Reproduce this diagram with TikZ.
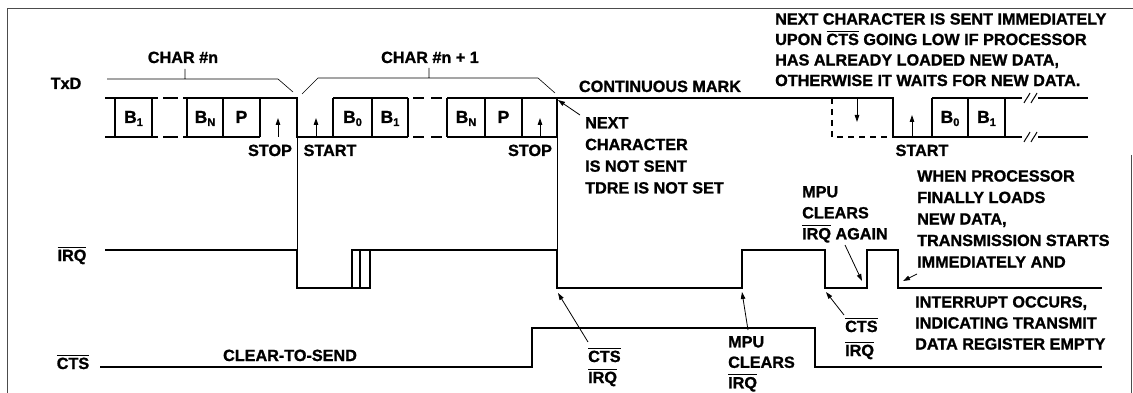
\documentclass[tikz,border=0pt]{standalone}
\usepackage{fontspec}
\setmainfont{Liberation Sans}[BoldFeatures={FakeBold=1.2}]
\usetikzlibrary{arrows.meta}
\newcommand\dgfont[1]{\fontsize{16.2}{#1}\selectfont\bfseries}
\newcommand\ovl[1]{\setbox0\hbox{#1}\rlap{\rule[\dimexpr\ht0+2pt\relax]{\wd0}{1pt}}\box0\relax}
\newcommand\bsub[2]{{\fontsize{17.5}{17.5}\selectfont #1}\raisebox{-3pt}{\fontsize{11}{11}\selectfont #2}}
\begin{document}
\begin{tikzpicture}[x=1pt,y=-1pt,
  sig/.style={line width=1.3pt,line join=miter},
  guide/.style={line width=0.6pt},
  frame/.style={line width=0.7pt,black!70},
  txt/.style={font=\dgfont{21},inner sep=0pt,anchor=base},
  note/.style={font=\dgfont{#1},inner sep=0pt,align=left,anchor=north west},
  ann/.style={-{Triangle[length=7pt,width=4.5pt]},line width=0.8pt}]
  \useasboundingbox (0,0) rectangle (1133,393);
  \draw[frame] (7,393) -- (7,8) -- (1133,8);
  \draw[frame] (1131,155) -- (1131,393);

  % signal names
  \node[txt] (txd) at (66,89) {TxD};
  \node[txt] (irq) at (72,261) {\ovl{IRQ}};
  \node[txt] (cts) at (73,369) {\ovl{CTS}};

  % TxD line
  \draw[sig] (105,98) -- (158,98) (105,137) -- (158,137);
  \draw[sig] (163,98) -- (178,98) (163,137) -- (178,137);
  \draw[sig] (183,98) -- (297,98) -- (297,137) -- (408,137);
  \draw[sig] (183,137) -- (260,137);
  \draw[sig] (333,98) -- (408,98);
  \draw[sig] (413,98) -- (424,98) (431,98) -- (442,98);
  \draw[sig] (413,137) -- (424,137) (431,137) -- (442,137);
  \draw[sig] (447,98) -- (893,98) -- (893,137) -- (1022,137);
  \draw[sig] (447,137) -- (557,137);
  \draw[sig] (932,98) -- (1022,98);
  \draw[sig] (1038,98) -- (1088,98) (1038,137) -- (1088,137);
  \foreach \x in {115,152,187,223,260,333,372,408,447,485,522,557,932,968,1005}
    \draw[sig] (\x,98) -- (\x,137);
  \foreach \y in {98,137} \foreach \x in {1027,1034}
    \draw[line width=1pt] (\x-3,\y+5) .. controls (\x-1,\y+1) and (\x+1,\y-1) .. (\x+3,\y-5);
  \draw[sig,dash pattern=on 6pt off 5pt] (832,98) -- (832,137) -- (893,137);

  % bit names
  \node[txt] (b1a) at (133.5,123) {\bsub{B}{1}};
  \node[txt] (bna) at (205,123) {\bsub{B}{N}};
  \node[txt] (pa)  at (241.5,123) {\bsub{P}{}};
  \node[txt] (b0b) at (352.5,123) {\bsub{B}{0}};
  \node[txt] (b1b) at (390,123) {\bsub{B}{1}};
  \node[txt] (bnb) at (466,123) {\bsub{B}{N}};
  \node[txt] (pb)  at (503.5,123) {\bsub{P}{}};
  \node[txt] (b0c) at (950,123) {\bsub{B}{0}};
  \node[txt] (b1c) at (986.5,123) {\bsub{B}{1}};

  % stop / start marks
  \draw[ann] (278,137) -- (278,118);
  \draw[ann] (316,137) -- (316,118);
  \draw[ann] (540,137) -- (540,118);
  \draw[ann] (912,137) -- (912,115);
  \draw[ann] (857,98) -- (857,122);
  \node[txt] (stopa)  at (270,156) {STOP};
  \node[txt] (starta) at (330,156) {START};
  \node[txt] (stopb)  at (530,156) {STOP};
  \node[txt] (startb) at (922,156) {START};

  % character brackets
  \draw[guide] (107,79) -- (278,79) -- (293,92) (185,79) -- (185,69);
  \draw[guide] (302,94) -- (318,78) -- (538,78) -- (555,93) (429,78) -- (429,68);
  \node[txt] (chn)  at (183,63) {CHAR \#n};
  \node[txt] (chn1) at (430,63) {CHAR \#n + 1};
  \node[txt] (mark) at (660,92) {CONTINUOUS MARK};

  % timing guides
  \draw[guide] (297,137) -- (297,250);
  \draw[guide] (557,137) -- (557,250);

  % IRQ line
  \draw[sig] (105,250) -- (297,250) -- (297,288) -- (370,288) -- (370,250);
  \draw[sig] (352,288) -- (352,250) -- (557,250) -- (557,288) -- (742,288) -- (742,250)
    -- (825,250) -- (825,288) -- (867,288) -- (867,250) -- (898,250) -- (898,288) -- (1102,288);
  \draw[sig] (360,250) -- (360,288);

  % CTS line
  \draw[sig] (100,367) -- (532,367) -- (532,328) -- (815,328) -- (815,367) -- (1102,367);
  \node[txt] (cleartosend) at (290,361) {CLEAR-TO-SEND};

  % notes
  \node[note=20.5] (sentnote) at (775,13) {NEXT CHARACTER IS SENT IMMEDIATELY\\
    UPON \ovl{CTS} GOING LOW IF PROCESSOR\\HAS ALREADY LOADED NEW DATA,\\
    OTHERWISE IT WAITS FOR NEW DATA.};
  \node[note=21.7] (notsent) at (585,117) {NEXT\\CHARACTER\\IS NOT SENT\\TDRE IS NOT SET};
  \node[note=21.5] (whenproc) at (917,170) {WHEN PROCESSOR\\FINALLY LOADS\\NEW DATA,\\
    TRANSMISSION STARTS\\IMMEDIATELY AND};
  \node[note=21] (intocc) at (915,296) {INTERRUPT OCCURS,\\INDICATING TRANSMIT\\DATA REGISTER EMPTY};
  \node[note=21] (mpuagain) at (802,186) {MPU\\CLEARS\\\ovl{IRQ} AGAIN};
  \node[note=20.5] (mpuclears) at (728,336) {MPU\\CLEARS\\\ovl{IRQ}};
  \node[note=21] (ctsirqa) at (588,347.5) {\ovl{CTS}\\\ovl{IRQ}};
  \node[note=24] (ctsirqb) at (845,317.5) {\ovl{CTS}\\\ovl{IRQ}};

  % pointers
  \coordinate (stopend) at (558,100);
  \coordinate (irqfalla) at (558,293);
  \coordinate (irqrisea) at (742,292);
  \coordinate (irqfallb) at (826,292);
  \coordinate (irqlowb) at (862,281);
  \coordinate (irqfallc) at (903,281);
  \coordinate (notsenttail) at (580,115);
  \coordinate (ctsirqatail) at (588,342);
  \coordinate (mpucltail) at (748,330);
  \coordinate (ctsirqbtail) at (844,315);
  \coordinate (mpuagtail) at (845,245);
  \coordinate (whentail) at (917,274);
  \draw[ann] (notsenttail) -- (stopend);
  \draw[ann] (ctsirqatail) -- (irqfalla);
  \draw[ann] (mpucltail) -- (irqrisea);
  \draw[ann] (ctsirqbtail) -- (irqfallb);
  \draw[ann] (mpuagtail) -- (irqlowb);
  \draw[ann] (whentail) -- (irqfallc);
\end{tikzpicture}
\end{document}
